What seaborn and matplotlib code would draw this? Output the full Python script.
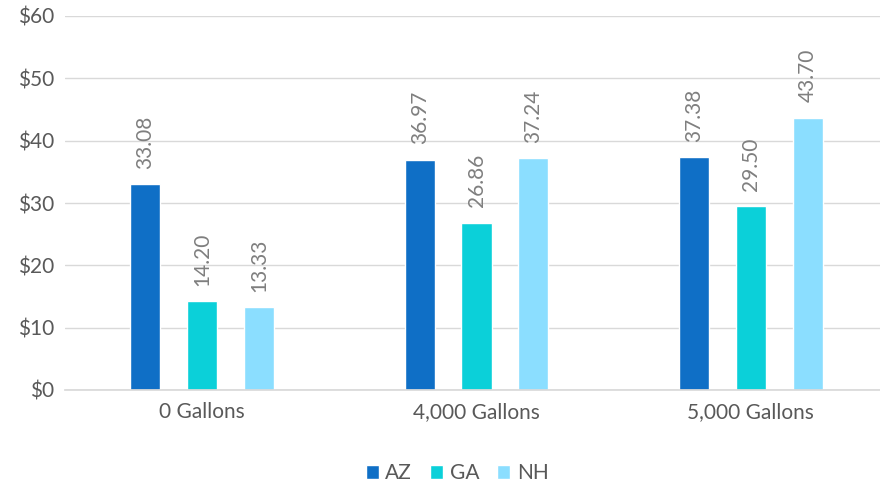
import matplotlib
matplotlib.use("Agg")
import matplotlib.pyplot as plt
import seaborn as sns
import pandas as pd

categories = ["0 Gallons", "4,000 Gallons", "5,000 Gallons"]
states = ["AZ", "GA", "NH"]
az = [33.08, 36.97, 37.38]
ga = [14.20, 26.86, 29.50]
nh = [13.33, 37.24, 43.70]
yticks = [0, 10, 20, 30, 40, 50, 60]

colors = ["#0F6FC6", "#0BD0D9", "#8BDEFF"]

rows = []
for s, vals in zip(states, [az, ga, nh]):
    for c, v in zip(categories, vals):
        rows.append({"cat": c, "state": s, "val": v})
df = pd.DataFrame(rows)

sns.set_theme(style="white")
plt.rcParams["font.family"] = ["Lato", "DejaVu Sans"]
grey = "#595959"
lgrey = "#7F7F7F"

fig = plt.figure(figsize=(8.8, 4.87), dpi=100)
ax = fig.add_axes([65/880, 1-390/487, 823/880, (390-16)/487])

sns.barplot(data=df, x="cat", y="val", hue="state", order=categories,
            hue_order=states, palette=colors, width=0.62, gap=0.47,
            ax=ax, saturation=1, legend=True)

ax.set_ylim(0, 60)
ax.set_yticks(yticks)
ax.set_yticklabels([f"${t}" for t in yticks], color=grey, fontsize=15)
ax.set_xlim(-0.5, 2.5)
ax.tick_params(axis="x", colors=grey, labelsize=15, length=0, pad=9)
ax.tick_params(axis="y", length=0, pad=8)
ax.set_xlabel("")
ax.set_ylabel("")
ax.yaxis.grid(True, color="#D9D9D9", linewidth=1)
ax.set_axisbelow(True)
for sp in ["top", "right", "left"]:
    ax.spines[sp].set_visible(False)
ax.spines["bottom"].set_color("#D9D9D9")

for cont in ax.containers:
    ax.bar_label(cont, labels=[f"{v:.2f}" for v in cont.datavalues],
                 rotation=90, padding=11, color=lgrey, fontsize=15)

h, l = ax.get_legend_handles_labels()
if ax.get_legend():
    ax.get_legend().remove()
fig.legend(h, l, loc="center", bbox_to_anchor=(457/880, 1-473/487),
           ncol=3, frameon=False, fontsize=15, handlelength=0.65,
           handleheight=0.65, handletextpad=0.3, columnspacing=0.85,
           labelcolor=grey)

fig.savefig("out.png", dpi=100)
